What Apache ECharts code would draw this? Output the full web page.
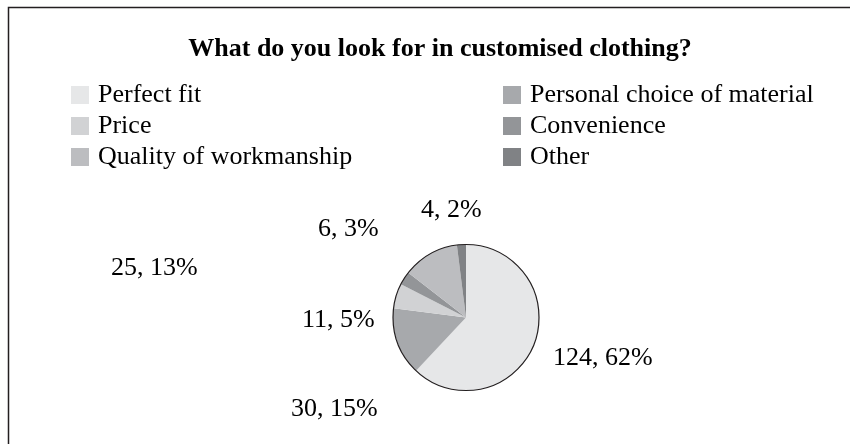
<!DOCTYPE html>
<html>
<head>
<meta charset="utf-8">
<script src="https://cdn.jsdelivr.net/npm/echarts@6/dist/echarts.min.js"></script>
<style>
  html, body { margin: 0; padding: 0; background: #fff; }
  #chart { width: 850px; height: 444px; }
</style>
</head>
<body>
<div id="chart"></div>
<script>
// Survey answers, listed in clockwise slice order starting at 12 o'clock
const categories = ['Perfect fit', 'Personal choice of material', 'Price', 'Convenience', 'Quality of workmanship', 'Other'];
const counts = [124, 30, 11, 6, 25, 4];
const percentLabels = [62, 15, 5, 3, 13, 2];
const sliceColors = ['#e6e7e8', '#a7a9ac', '#d1d2d4', '#939598', '#bcbdc0', '#808285'];

// Legend columns (read top to bottom)
const legendLeft = ['Perfect fit', 'Price', 'Quality of workmanship'];
const legendRight = ['Personal choice of material', 'Convenience', 'Other'];

// Where each data label sits (left edge, vertical middle)
const labelSpots = [[553, 358], [291, 409], [302, 320], [318, 229], [111, 268], [421, 210]];

const FONT = '"Liberation Serif", "Times New Roman", serif';

const chart = echarts.init(document.getElementById('chart'));

const legendCommon = {
  orient: 'vertical',
  icon: 'rect',
  itemWidth: 18,
  itemHeight: 18,
  itemGap: 5,
  padding: 0,
  selectedMode: false,
  textStyle: { fontFamily: FONT, fontSize: 26, color: '#000', padding: [0, 0, 0, 4] }
};

chart.setOption({
  animation: false,
  backgroundColor: '#fff',
  title: {
    text: 'What do you look for in customised clothing?',
    left: 435,
    textAlign: 'center',
    top: 31,
    textStyle: { fontFamily: FONT, fontSize: 26, fontWeight: 'bold', color: '#000' }
  },
  legend: [
    Object.assign({}, legendCommon, { data: legendLeft, left: 71, top: 82 }),
    Object.assign({}, legendCommon, { data: legendRight, left: 503, top: 82 })
  ],
  graphic: [{
    type: 'rect',
    shape: { x: 8.5, y: 7.5, width: 900, height: 500 },
    style: { fill: 'none', stroke: '#231f20', lineWidth: 1.5 },
    silent: true
  }],
  series: [
    {
      type: 'pie',
      center: [466, 317.5],
      radius: 73,
      startAngle: 90,
      clockwise: true,
      silent: true,
      itemStyle: { borderWidth: 0 },
      label: {
        show: true,
        position: 'outside',
        fontFamily: FONT,
        fontSize: 26,
        color: '#000',
        formatter: p => p.value + ', ' + percentLabels[p.dataIndex] + '%'
      },
      labelLine: { show: false },
      labelLayout: p => ({
        x: labelSpots[p.dataIndex][0],
        y: labelSpots[p.dataIndex][1],
        align: 'left',
        verticalAlign: 'middle'
      }),
      data: categories.map((name, i) => ({
        name,
        value: counts[i],
        itemStyle: { color: sliceColors[i] }
      }))
    },
    {
      // outline around the whole pie
      type: 'pie',
      center: [466, 317.5],
      radius: 73,
      silent: true,
      label: { show: false },
      labelLine: { show: false },
      itemStyle: { color: 'rgba(0,0,0,0)', borderColor: '#231f20', borderWidth: 1.2 },
      data: [{ value: 1, name: '' }]
    }
  ]
});
</script>
</body>
</html>
